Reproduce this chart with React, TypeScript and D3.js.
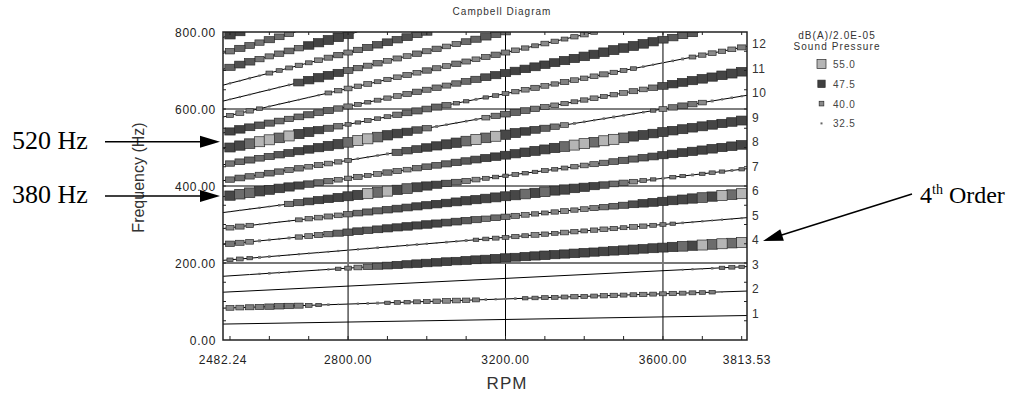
import React from 'react';
import * as d3 from 'd3';

// RPM sweep where the order amplitudes were read (every 25 rpm)
const rpmSamples = [
  2500, 2525, 2550, 2575, 2600, 2625, 2650, 2675, 2700, 2725, 2750, 2775, 2800,
  2825, 2850, 2875, 2900, 2925, 2950, 2975, 3000, 3025, 3050, 3075, 3100, 3125,
  3150, 3175, 3200, 3225, 3250, 3275, 3300, 3325, 3350, 3375, 3400, 3425, 3450,
  3475, 3500, 3525, 3550, 3575, 3600, 3625, 3650, 3675, 3700, 3725, 3750, 3775, 3800,
];

// dB(A) per order at each rpm sample (orders > 12 stop where they leave the 800 Hz top)
const order1 = [26,26,27,26,26,27,27,26,26,26,27,26,26, 26,27,27,26,26,26,27,27,26,26,26,27,26, 26,27,26,26,27,27,26,26,26,27,26,26,27, 27,26,26,26,27,27,26,26,26,27,26,26,27,26];
const order2 = [40,40,41,41,42,42,42,41,38,36,34,31,31, 33,34,35,36,37,37,38,38,39,40,40,39,38, 34,33,33,34,36,37,38,38,38,39,38,38,39, 39,38,38,39,38,38,39,38,38,37,37,31,28,28];
const order3 = [27,27,28,27,27,28,27,27,27,28,27,27,27, 28,27,27,27,28,27,27,27,27,28,27,27,27, 27,28,27,27,27,27,28,27,27,27,27,28,27, 27,27,28,27,27,27,27,32,33,31,34,36,37,36];
const order4 = [28,28,30,33,34,32,33,30,29,30,33,36,38, 40,42,44,46,47,47,48,48,48,49,48,49,49, 49,50,50,49,50,50,51,50,50,51,51,50,51, 51,51,52,51,52,52,53,54,53,55,54,55,54,55];
const order5 = [37,38,36,35,34,32,31,33,32,31,32,33,32, 33,32,34,33,32,33,34,33,32,34,33,35,36, 37,38,38,39,38,40,39,38,40,39,38,39,40, 39,38,40,39,38,37,36,34,33,33,32,33,32,33];
const order6 = [42,41,40,35,34,33,35,39,40,41,42,44,45, 46,45,46,47,47,48,47,48,47,46,46,45,44, 42,43,42,41,40,39,38,39,40,39,40,41,42, 43,44,46,48,49,50,51,52,53,54,53,55,54,55];
const order7 = [40,41,39,32,33,32,33,38,39,40,41,40,42, 43,44,44,45,46,46,47,47,48,48,49,50,50, 51,52,52,53,54,53,54,52,53,51,50,47,45, 43,42,40,38,36,35,37,36,35,36,37,36,35,36];
const order8 = [30,31,32,33,32,34,42,44,46,47,48,50,52, 53,55,54,55,53,54,52,50,47,45,43,41,40, 38,37,36,38,37,36,38,37,38,39,40,41,42, 43,44,44,45,46,47,48,49,50,50,51,50,51,51];
const order9 = [53,54,54,53,52,51,50,47,45,43,42,40,39, 41,38,40,42,41,40,42,43,43,44,45,45,46, 47,48,49,50,51,52,52,53,54,55,55,54,55, 55,54,53,52,51,52,51,52,51,52,51,50,51,52];
const order10 = [42,43,42,41,43,42,41,42,40,41,40,39,38, 34,33,34,35,44,45,46,48,50,52,53,54,55, 54,55,53,52,48,46,44,42,40,35,34,33,34, 35,34,33,34,36,40,42,43,42,40,35,33,34,33];
const order11 = [42,43,44,43,44,45,46,47,48,50,52,53,54, 55,55,54,53,51,47,45,42,35,34,33,34,35, 40,42,43,44,43,42,41,40,39,38,39,40,38, 39,40,41,40,42,46,48,49,50,51,50,51,52,51];
const order12 = [52,53,54,55,55,54,55,53,52,47,44,42,37, 36,38,37,38,42,43,44,43,44,42,37,36,35, 36,37,38,39,40,41,40,39,41,40,39,40,41, 39,38,37,34,33,33,34,35,38,39,40,39,40,41];
const order13 = [47,48,46,45,44,43,42,43,44,43,44,42,41, 38,37,38,39,40,41,42,41,42,41,42,43,44, 46,47,47,48,48,49,48,49,50,50,51,50,51, 52,51,52,51,50,46,45,44,45];
const order14 = [38,40,39,37,33,32,33,32,31,33,38,39,40, 39,40,38,39,40,41,40,42,41,40,42,41,40, 41,42,41,40,39,38,40,39,38,39,40,38];
const order15 = [32,33,32,31,33,32,34,46,48,50,49,47,43, 42,41,42,40,41,40,42,41,42,40,41,43,44, 45,44,43];
const order16 = [33,32,34,33,38,37,38,39,38,40,41,42,41, 42,44,45,46,45,46,44,45];
const order17 = [44,46,45,42,41,42,43,42,48,50,52,51,50];
const order18 = [42,44,43,42,44,43,42];
const order19 = [48,47];

const orders = [
  order1, order2, order3, order4, order5, order6, order7, order8, order9, order10,
  order11, order12, order13, order14, order15, order16, order17, order18, order19,
];

const rpmDomain = [2482.24, 3813.53];
const freqDomain = [0, 800];
const rpmTickValues = [2482.24, 2800, 3200, 3600, 3813.53];
const freqTickValues = [0, 200, 400, 600, 800];
const rpmGrid = [2800, 3200, 3600];
const freqGrid = [200, 400, 600];
const labelledOrders = [1, 2, 3, 4, 5, 6, 7, 8, 9, 10, 11, 12];
const legendLevels = [55.0, 47.5, 40.0, 32.5];

const sans = "'Liberation Sans', Arial, sans-serif";
const serif = "'Liberation Serif', 'Times New Roman', serif";

const App = () => {
  const width = 1015;
  const height = 396;
  const plot = { left: 223, right: 747, top: 32, bottom: 340 };

  const xScale = d3.scaleLinear().domain(rpmDomain).range([plot.left, plot.right]);
  const yScale = d3.scaleLinear().domain(freqDomain).range([plot.bottom, plot.top]);
  const sizeScale = d3.scaleLinear().domain([32.5, 55]).range([2, 10]);
  const fillScale = d3.scaleLinear<string>()
    .domain([30, 40, 47.5, 53.5, 55])
    .range(['#5a5a5a', '#8a8a8a', '#404040', '#484848', '#b5b5b5'])
    .clamp(true);

  const line = d3.line<[number, number]>()
    .x(d => xScale(d[0]))
    .y(d => yScale(d[1]));

  const rpmMin = rpmDomain[0];
  const rpmMax = rpmDomain[1];
  const fMax = freqDomain[1];
  const stepPx = xScale(rpmSamples[1]) - xScale(rpmSamples[0]);

  const orderPaths = orders.map((_, idx) => {
    const k = idx + 1;
    const rEnd = Math.min(rpmMax, (fMax * 60) / k);
    return line([[rpmMin, (k * rpmMin) / 60], [rEnd, (k * rEnd) / 60]]);
  });

  const points: { k: number; r: number; f: number; db: number }[] = [];
  orders.forEach((levels, idx) => {
    const k = idx + 1;
    levels.forEach((db, i) => {
      const r = rpmSamples[i];
      const f = (k * r) / 60;
      if (f > fMax || db < 30) return;
      points.push({ k, r, f, db });
    });
  });
  points.sort((a, b) => a.db - b.db);

  const minorRpm = d3.range(2500, 3801, 100);
  const minorFreq = d3.range(50, 800, 50);

  const arrowHead = (tx: number, ty: number, angle: number) => {
    const len = 20;
    const half = 6;
    return [
      [0, 0],
      [-len, -half],
      [-len, half],
    ].map(([px, py]) => {
      const c = Math.cos(angle);
      const s = Math.sin(angle);
      return `${tx + px * c - py * s},${ty + px * s + py * c}`;
    }).join(' ');
  };

  const ang4 = Math.atan2(241 - 194, 763 - 912);

  return (
    <svg width={width} height={height} style={{ position: 'absolute', left: 0, top: 0, background: '#fff' }}>
      <defs>
        <clipPath id="plot-clip">
          <rect x={plot.left} y={plot.top} width={plot.right - plot.left} height={plot.bottom - plot.top} />
        </clipPath>
      </defs>
      <rect x={0} y={0} width={width} height={height} fill="#fff" />

      <text x={502} y={15} textAnchor="middle" fontFamily={sans} fontSize={10} letterSpacing={1} fill="#333">
        Campbell Diagram
      </text>

      {/* grid */}
      {rpmGrid.map(r => (
        <line key={`gx${r}`} x1={xScale(r)} x2={xScale(r)} y1={plot.top} y2={plot.bottom} stroke="#000" strokeWidth={1} />
      ))}
      {freqGrid.map(f => (
        <line key={`gy${f}`} x1={plot.left} x2={plot.right} y1={yScale(f)} y2={yScale(f)}
          stroke={f === 200 ? '#777' : '#000'} strokeWidth={f === 200 ? 2 : 1} />
      ))}

      {/* order lines and amplitude squares */}
      <g clipPath="url(#plot-clip)">
        {orderPaths.map((d, i) => (
          <path key={`o${i}`} d={d || ''} fill="none" stroke="#000" strokeWidth={1} />
        ))}
        {points.map((p, i) => {
          const s = sizeScale(p.db);
          const w = s < 3 ? s : Math.max(s, Math.min(stepPx + 0.5, s * 1.7));
          return (
            <rect key={`p${i}`} x={xScale(p.r) - w / 2} y={yScale(p.f) - s / 2} width={w} height={s}
              fill={fillScale(p.db)} stroke={s >= 3 ? '#2a2a2a' : 'none'} strokeWidth={0.7} />
          );
        })}
      </g>

      {/* frame */}
      <rect x={plot.left} y={plot.top} width={plot.right - plot.left} height={plot.bottom - plot.top}
        fill="none" stroke="#222" strokeWidth={1.5} />

      {/* minor ticks */}
      {minorRpm.map(r => (
        <g key={`mr${r}`}>
          <line x1={xScale(r)} x2={xScale(r)} y1={plot.bottom} y2={plot.bottom - 4} stroke="#222" />
          <line x1={xScale(r)} x2={xScale(r)} y1={plot.top} y2={plot.top + 3} stroke="#222" />
        </g>
      ))}
      {minorFreq.map(f => (
        <g key={`mf${f}`}>
          <line x1={plot.left} x2={plot.left + 3} y1={yScale(f)} y2={yScale(f)} stroke="#222" />
          <line x1={plot.right} x2={plot.right - 3} y1={yScale(f)} y2={yScale(f)} stroke="#222" />
        </g>
      ))}

      {/* axis labels */}
      {freqTickValues.map(f => (
        <text key={`yl${f}`} x={216} y={yScale(f) + 4.5} textAnchor="end" fontFamily={sans}
          fontSize={12} letterSpacing={0.7} fill="#222">
          {f.toFixed(2)}
        </text>
      ))}
      {rpmTickValues.map(r => (
        <text key={`xl${r}`} x={xScale(r)} y={364} textAnchor="middle" fontFamily={sans}
          fontSize={12} letterSpacing={0.7} fill="#222">
          {r.toFixed(2)}
        </text>
      ))}
      {labelledOrders.map(k => (
        <text key={`ol${k}`} x={752} y={yScale((k * rpmMax) / 60) + 2} fontFamily={sans}
          fontSize={12} letterSpacing={0.5} fill="#333">
          {k}
        </text>
      ))}

      <text x={507} y={389} textAnchor="middle" fontFamily={sans} fontSize={17} letterSpacing={1} fill="#333">RPM</text>
      <text transform="translate(144,177.5) rotate(-90)" textAnchor="middle" fontFamily={sans} fontSize={16} fill="#333">
        Frequency (Hz)
      </text>

      {/* legend */}
      <text x={837} y={38.5} textAnchor="middle" fontFamily={sans} fontSize={10} letterSpacing={1.1} fill="#333">dB(A)/2.0E-05</text>
      <text x={837} y={50} textAnchor="middle" fontFamily={sans} fontSize={10} letterSpacing={1.1} fill="#333">Sound Pressure</text>
      {legendLevels.map((lv, i) => {
        const s = sizeScale(lv) - (i === 0 ? 1 : 0);
        const cy = 64 + i * 19.8;
        return (
          <g key={`lg${i}`}>
            <rect x={821.5 - s / 2} y={cy - s / 2} width={s} height={s} fill={fillScale(lv)}
              stroke={s >= 3 ? '#2a2a2a' : 'none'} strokeWidth={0.7} />
            <text x={833} y={cy + 4} fontFamily={sans} fontSize={10} letterSpacing={0.8} fill="#444">
              {lv.toFixed(1)}
            </text>
          </g>
        );
      })}

      {/* annotations */}
      <text x={12} y={149} fontFamily={serif} fontSize={26} fill="#000">520 Hz</text>
      <line x1={105} x2={202} y1={141.7} y2={141.7} stroke="#000" strokeWidth={1.5} />
      <polygon points={arrowHead(220, 141.7, 0)} fill="#000" />

      <text x={12} y={203} fontFamily={serif} fontSize={26} fill="#000">380 Hz</text>
      <line x1={105} x2={202} y1={196} y2={196} stroke="#000" strokeWidth={1.5} />
      <polygon points={arrowHead(220, 196, 0)} fill="#000" />

      <line x1={912} y1={194} x2={763 - 18 * Math.cos(ang4)} y2={241 - 18 * Math.sin(ang4)} stroke="#000" strokeWidth={1.5} />
      <polygon points={arrowHead(763, 241, ang4)} fill="#000" />
      <text x={920} y={203} fontFamily={serif} fontSize={24} fill="#000">
        4<tspan dy={-9} fontSize={14}>th</tspan><tspan dy={9}> Order</tspan>
      </text>
    </svg>
  );
};

export default App;
